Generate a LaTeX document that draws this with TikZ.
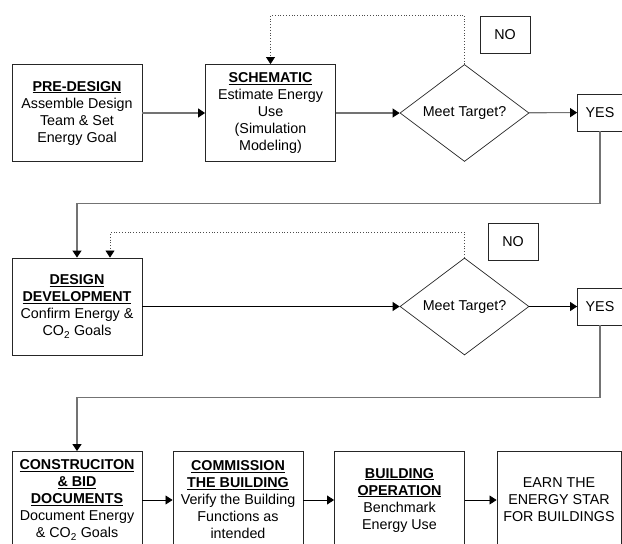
\documentclass[tikz,border=0pt]{standalone}
\usepackage{fontspec}
\setmainfont{Liberation Sans}
\usepackage{tikz}
\usetikzlibrary{arrows.meta}
\usetikzlibrary{shapes.geometric}

\begin{document}
\begin{tikzpicture}[x=1pt,y=-1pt,
	font=\fontsize{14.3}{17}\selectfont,
	>={Triangle[black,length=7pt,width=9pt]}]
	\useasboundingbox (0,0) rectangle (622,544);
	\clip (0,0) rectangle (622,544);

	% the stage boxes
	\begin{scope}[every node/.style={draw=black!85,line width=0.9pt,align=center,
	              minimum width=130pt,minimum height=97pt,inner sep=2pt}]
		\node (pre) at (77,113) {\textbf{\underline{PRE-DESIGN}}\\Assemble Design\\Team \& Set\\Energy Goal};
		\node (sch) at (270.5,113) {\textbf{\underline{SCHEMATIC}}\\Estimate Energy\\Use\\(Simulation\\Modeling)};
		\node (dd) at (77,306.5) {\textbf{\underline{DESIGN}}\\\textbf{\underline{DEVELOPMENT}}\\Confirm Energy \&\\CO\textsubscript{2} Goals};
		\node (cbd) at (77,500) {\textbf{\underline{CONSTRUCITON}}\\\textbf{\underline{\& BID}}\\\textbf{\underline{DOCUMENTS}}\\Document Energy\\\& CO\textsubscript{2} Goals};
		\node (comm) at (238,500) {\textbf{\underline{COMMISSION}}\\\textbf{\underline{THE BUILDING}}\\Verify the Building\\Functions as\\intended};
		\node (bo) at (399.5,500) {\textbf{\underline{BUILDING}}\\\textbf{\underline{OPERATION}}\\Benchmark\\Energy Use};
		\node[minimum width=124pt] (earn) at (559,500) {EARN THE\\ENERGY STAR\\FOR BUILDINGS};
	\end{scope}

	% decisions and answers
	\begin{scope}[every node/.style={draw=black!85,line width=0.7pt}]
		\node[diamond,aspect=1.33,minimum width=129pt,minimum height=97pt,inner sep=0pt] (d1) at (464.5,113) {Meet Target?};
		\node[diamond,aspect=1.33,minimum width=129pt,minimum height=97pt,inner sep=0pt] (d2) at (464.5,306.5) {Meet Target?};
		\node[minimum width=50pt,minimum height=37pt] (no1) at (505,34.5) {NO};
		\node[minimum width=50pt,minimum height=37pt] (no2) at (513,242) {NO};
		\node[minimum width=45pt,minimum height=37pt] (yes1) at (600,112.5) {YES};
		\node[minimum width=45pt,minimum height=37pt] (yes2) at (600,306.5) {YES};
	\end{scope}

	% connectors
	\begin{scope}[every path/.style={line width=1.1pt,draw=black!55}]
		\draw[->] (pre) -- (sch);
		\draw[->] (sch) -- (d1);
		\draw[->] (d1) -- (yes1);
		\draw[->] (yes1.south) -- ++(0,72) -| (dd.north);
		\draw[->] (yes2.south) -- ++(0,72) -| (cbd.north);
	\end{scope}
	\begin{scope}[every path/.style={line width=0.8pt,draw=black}]
		\draw[->] (dd) -- (d2);
		\draw[->] (d2) -- (yes2);
		\draw[->] (cbd) -- (comm);
		\draw[->] (comm) -- (bo);
		\draw[->] (bo) -- (earn);
	\end{scope}
	\begin{scope}[every path/.style={line width=0.8pt,draw=black!70,dotted}]
		\draw[->] (d1.north) -- ++(0,-49) -| (sch.north);
		\draw[->] (d2.north) -- ++(0,-25) -| ([xshift=33pt]dd.north);
	\end{scope}
\end{tikzpicture}
\end{document}
